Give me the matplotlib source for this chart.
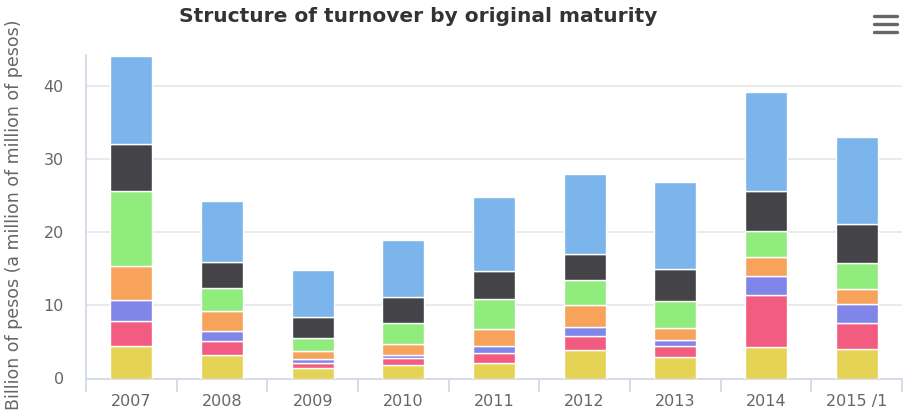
import matplotlib
matplotlib.use("Agg")
import matplotlib.pyplot as plt
import numpy as np

categories = ["2007", "2008", "2009", "2010", "2011", "2012", "2013", "2014", "2015 /1"]
# stacked bottom -> top
series_yellow = [4.45, 3.2, 1.4, 1.8, 2.16, 3.86, 3.0, 4.3, 4.1]
series_pink = [3.45, 1.95, 0.7, 1.0, 1.29, 2.0, 1.45, 7.2, 3.45]
series_purple = [2.9, 1.4, 0.6, 0.46, 1.0, 1.24, 0.82, 2.6, 2.65]
series_orange = [4.6, 2.7, 1.0, 1.42, 2.29, 2.9, 1.69, 2.5, 2.0]
series_green = [10.3, 3.1, 1.8, 2.88, 4.11, 3.5, 3.7, 3.65, 3.6]
series_dark = [6.4, 3.65, 2.9, 3.64, 3.92, 3.5, 4.34, 5.45, 5.3]
series_blue = [12.1, 8.3, 6.5, 7.77, 10.1, 11.0, 11.96, 13.6, 12.0]
y_ticks = [0, 10, 20, 30, 40]

stack = [series_yellow, series_pink, series_purple, series_orange,
         series_green, series_dark, series_blue]
colors = ["#e4d354", "#f15c80", "#8085e9", "#f7a35c", "#90ed7d", "#434348", "#7cb5ec"]

W, H = 904, 417
fig = plt.figure(figsize=(W / 100, H / 100), dpi=100)
left, right, bottom, top = 86, 902, 378.5, 55
ax = fig.add_axes([left / W, (H - bottom) / H, (right - left) / W, (bottom - top) / H])

x = np.arange(len(categories))
base = np.zeros(len(categories))
for vals, c in zip(stack, colors):
    vals = np.array(vals)
    ax.bar(x, vals, bottom=base, width=0.46, color=c, edgecolor="white", linewidth=1, zorder=3)
    base += vals

ax.set_xlim(-0.5, len(categories) - 0.5)
ax.set_ylim(0, 44.3)
ax.set_yticks(y_ticks)
ax.yaxis.grid(True, color="#e6e6e6", linewidth=1.2, zorder=0)
ax.set_axisbelow(True)

for s in ["top", "right"]:
    ax.spines[s].set_visible(False)
ax.spines["left"].set_color("#ccd6eb")
ax.spines["bottom"].set_color("#ccd6eb")
ax.spines["left"].set_linewidth(1.2)
ax.spines["bottom"].set_linewidth(1.2)

ax.set_xticks(x)
ax.set_xticklabels(categories)
ax.set_xticks(np.arange(-0.5, len(categories)), minor=True)
ax.tick_params(axis="x", which="major", length=0, pad=11, labelsize=11.5, labelcolor="#666666")
ax.tick_params(axis="x", which="minor", length=9, width=1.2, color="#ccd6eb")
ax.tick_params(axis="y", length=0, pad=16, labelsize=11.5, labelcolor="#666666")

ax.set_ylabel("Billion of pesos (a million of million of pesos)", fontsize=12.5, color="#666666")
ax.yaxis.set_label_coords(-(86 - 23) / (right - left), (bottom - 215) / (bottom - top))

fig.text(418 / W, 1 - 17 / H, "Structure of turnover by original maturity",
         ha="center", va="center", fontsize=14.5, fontweight="bold", color="#333333")

# menu icon
for yy in [15.5, 23.5, 31.5]:
    fig.add_artist(plt.Line2D([874 / W, 897 / W], [1 - yy / H, 1 - yy / H],
                              color="#666666", linewidth=2.4, solid_capstyle="round"))

fig.savefig("out.png", dpi=100)
